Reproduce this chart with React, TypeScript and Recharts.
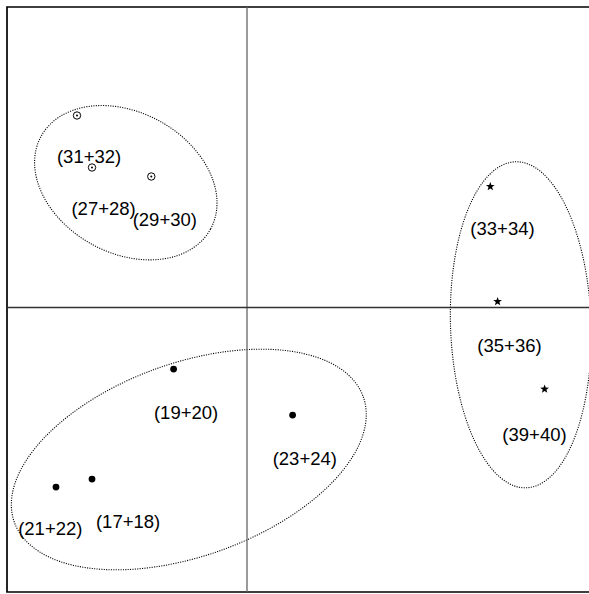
import {
  ReferenceArea,
  ReferenceLine,
  Scatter,
  ScatterChart,
  XAxis,
  YAxis,
} from "recharts";

// plot range (axis 1 / axis 2); right edge runs past the picture
const xDomain = [-2.4, 3.55];
const yDomain = [-2.845, 3.005];

// group 27..32 (open circle with dot)
const ringPoints = [
  { x: -1.7, y: 1.92 },
  { x: -1.55, y: 1.4 },
  { x: -0.957, y: 1.31 },
];

// group 17..24 (filled dot)
const dotPoints = [
  { x: -0.734, y: -0.616 },
  { x: -1.91, y: -1.796 },
  { x: -1.55, y: -1.716 },
  { x: 0.456, y: -1.076 },
];

// group 33..40 (star)
const starPoints = [
  { x: 2.433, y: 1.21 },
  { x: 2.506, y: 0.06 },
  { x: 2.976, y: -0.816 },
];

const labelTexts = [
  "(31+32)",
  "(27+28)",
  "(29+30)",
  "(19+20)",
  "(23+24)",
  "(21+22)",
  "(17+18)",
  "(33+34)",
  "(35+36)",
  "(39+40)",
];
const labelX = [-1.579, -1.434, -0.822, -0.609, 0.578, -1.967, -1.189, 2.555, 2.625, 2.875];
const labelY = [1.494, 0.977, 0.86, -1.063, -1.523, -2.23, -2.156, 0.77, -0.396, -1.29];

// ellipses: centre, semi-axes (data units) and tilt in degrees
const ellipseCx = [-1.212, -0.582, 2.738];
const ellipseCy = [1.248, -1.52, -0.173];
const ellipseRx = [0.966, 1.854, 0.703];
const ellipseRy = [0.703, 0.964, 1.631];
const ellipseAngle = [28.7, -19.8, -1.9];

const labels = labelTexts.map((text, i) => ({ x: labelX[i], y: labelY[i], text }));

const FONT = "'Liberation Sans', Arial, Helvetica, sans-serif";
const FONT_SIZE = 18.5;

const RingShape = (props: any) => {
  const { cx, cy } = props;
  return (
    <g>
      <circle cx={cx} cy={cy} r={3.7} fill="#fff" stroke="#000" strokeWidth={1} />
      <circle cx={cx} cy={cy} r={1} fill="#000" />
    </g>
  );
};

const DotShape = (props: any) => {
  const { cx, cy } = props;
  return <circle cx={cx} cy={cy} r={3.4} fill="#000" />;
};

const StarShape = (props: any) => {
  const { cx, cy } = props;
  const pts: string[] = [];
  for (let i = 0; i < 10; i++) {
    const r = i % 2 === 0 ? 4.6 : 1.9;
    const a = (-90 + i * 36) * (Math.PI / 180);
    pts.push(`${cx + r * Math.cos(a)},${cy + r * Math.sin(a)}`);
  }
  return <polygon points={pts.join(" ")} fill="#000" />;
};

const LabelShape = (props: any) => {
  const { cx, cy, payload } = props;
  return (
    <text
      x={cx}
      y={cy + FONT_SIZE * 0.26}
      textAnchor="middle"
      fontFamily={FONT}
      fontSize={FONT_SIZE}
      fill="#000"
    >
      {payload.text}
    </text>
  );
};

const makeEllipseShape = (angle: number) => (props: any) => {
  const { x, y, width, height } = props;
  const cx = x + width / 2;
  const cy = y + height / 2;
  return (
    <ellipse
      cx={cx}
      cy={cy}
      rx={Math.abs(width) / 2}
      ry={Math.abs(height) / 2}
      transform={`rotate(${angle} ${cx} ${cy})`}
      fill="none"
      stroke="#000"
      strokeWidth={1.1}
      strokeDasharray="1.1 1.3"
    />
  );
};

export default function App() {
  return (
    <div
      style={{
        position: "absolute",
        left: 0,
        top: 0,
        width: 589,
        height: 594,
        overflow: "hidden",
        background: "#fff",
      }}
    >
      <ScatterChart
        width={610}
        height={600}
        margin={{ top: 7, right: 8, bottom: 8, left: 7 }}
      >
        <XAxis type="number" dataKey="x" domain={xDomain} hide allowDataOverflow />
        <YAxis type="number" dataKey="y" domain={yDomain} hide allowDataOverflow />
        <ReferenceArea
          x1={xDomain[0]}
          x2={xDomain[1]}
          y1={yDomain[0]}
          y2={yDomain[1]}
          fill="none"
          fillOpacity={0}
          stroke="#000"
          strokeWidth={1.7}
          ifOverflow="visible"
        />
        <ReferenceLine x={0} stroke="#666" strokeWidth={1.3} ifOverflow="visible" />
        <ReferenceLine y={0} stroke="#333" strokeWidth={1.3} ifOverflow="visible" />
        {ellipseCx.map((cx, i) => (
          <ReferenceArea
            key={`ell-${i}`}
            x1={cx - ellipseRx[i]}
            x2={cx + ellipseRx[i]}
            y1={ellipseCy[i] - ellipseRy[i]}
            y2={ellipseCy[i] + ellipseRy[i]}
            ifOverflow="visible"
            shape={makeEllipseShape(ellipseAngle[i])}
          />
        ))}
        <Scatter data={ringPoints} shape={RingShape} isAnimationActive={false} />
        <Scatter data={dotPoints} shape={DotShape} isAnimationActive={false} />
        <Scatter data={starPoints} shape={StarShape} isAnimationActive={false} />
        <Scatter data={labels} shape={LabelShape} isAnimationActive={false} />
      </ScatterChart>
    </div>
  );
}
